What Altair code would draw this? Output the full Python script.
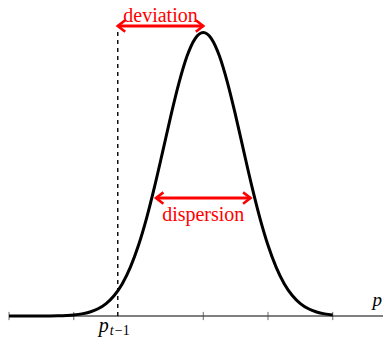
import altair as alt
import pandas as pd

# ---- data ----
curve_x = [-3.0, -2.5, -2.25, -2.0, -1.875, -1.75, -1.625, -1.5, -1.375, -1.25,
           -1.125, -1.0, -0.875, -0.75, -0.625, -0.5, -0.375, -0.25, -0.125, 0.0,
           0.125, 0.25, 0.375, 0.5, 0.625, 0.75, 0.875, 1.0, 1.125, 1.25,
           1.375, 1.5, 1.625, 1.75, 1.875, 2.0]
curve_y = [0.0, 0.0002, 0.0009, 0.0039, 0.0076, 0.0142, 0.0255, 0.0439, 0.0724, 0.1141,
           0.1724, 0.2494, 0.3453, 0.458, 0.5813, 0.707, 0.8226, 0.917, 0.9785, 1.0,
           0.9785, 0.917, 0.8226, 0.707, 0.5813, 0.458, 0.3453, 0.2494, 0.1724, 0.1141,
           0.0724, 0.0439, 0.0255, 0.0142, 0.0076, 0.0039]
tick_values = [-3, -2, 0, 1, 2]
x_domain = [-3.0, 2.776]
y_domain = [-0.0811, 1.0864]
p_prev = -1.32
dashed_top = 1.005
dev_x = [-1.32, 0.0]
dev_y = 1.023
disp_x = [-0.73, 0.73]
disp_y = 0.416
dev_label = "deviation"
disp_label = "dispersion"
dev_label_y = 1.037
disp_label_y = 0.335
axis_label = "p"
axis_label_y = 0.035
sub_p_y = -0.0564
sub_t_y = -0.067

RED = "#ff0000"
FONT = "Liberation Serif"

xs = alt.Scale(domain=x_domain, nice=False, zero=False)
ys = alt.Scale(domain=y_domain, nice=False, zero=False)

def X(f="x"):
    return alt.X(f"{f}:Q", scale=xs, axis=None)

def Y(f="y"):
    return alt.Y(f"{f}:Q", scale=ys, axis=None)

curve_df = pd.DataFrame({"x": curve_x, "y": curve_y})
curve = alt.Chart(curve_df).mark_line(color="black", strokeWidth=3, interpolate="monotone").encode(
    x=X(), y=Y())

axis_df = pd.DataFrame({"x": [x_domain[0]], "x2": [x_domain[1]], "y": [0.0]})
axis_line = alt.Chart(axis_df).mark_rule(color="black", strokeWidth=1).encode(
    x=X(), x2="x2:Q", y=Y())

tick_df = pd.DataFrame({"x": tick_values, "y": [-0.0145] * len(tick_values), "y2": [0.0145] * len(tick_values)})
ticks = alt.Chart(tick_df).mark_rule(color="#444444", strokeWidth=0.8).encode(
    x=X(), y=Y(), y2="y2:Q")

dash_df = pd.DataFrame({"x": [p_prev], "y": [0.0], "y2": [dashed_top]})
dashed = alt.Chart(dash_df).mark_rule(color="black", strokeWidth=1.4, strokeDash=[4, 4]).encode(
    x=X(), y=Y(), y2="y2:Q")

arrow_df = pd.DataFrame({"x": [dev_x[0], disp_x[0]], "x2": [dev_x[1], disp_x[1]], "y": [dev_y, disp_y]})
arrows = alt.Chart(arrow_df).mark_rule(color=RED, strokeWidth=3).encode(
    x=X(), x2="x2:Q", y=Y())

left_df = pd.DataFrame({"x": [dev_x[0], disp_x[0]], "y": [dev_y, disp_y]})
right_df = pd.DataFrame({"x": [dev_x[1], disp_x[1]], "y": [dev_y, disp_y]})
head_l = alt.Chart(left_df).mark_point(
    shape="M 1.3 -1 L 0 0 L 1.3 1", size=130, filled=False, stroke=RED, strokeWidth=2.6,
    opacity=1, strokeJoin="miter").encode(x=X(), y=Y())
head_r = alt.Chart(right_df).mark_point(
    shape="M -1.3 -1 L 0 0 L -1.3 1", size=130, filled=False, stroke=RED, strokeWidth=2.6,
    opacity=1, strokeJoin="miter").encode(x=X(), y=Y())

lab_df = pd.DataFrame({"x": [(dev_x[0] + dev_x[1]) / 2, (disp_x[0] + disp_x[1]) / 2],
                       "y": [dev_label_y, disp_label_y],
                       "t": [dev_label, disp_label]})
labels = alt.Chart(lab_df).mark_text(color=RED, font=FONT, fontSize=20, baseline="alphabetic",
                                     align="center").encode(x=X(), y=Y(), text="t:N")

p_df = pd.DataFrame({"x": [x_domain[1]], "y": [axis_label_y], "t": [axis_label]})
p_lab = alt.Chart(p_df).mark_text(font=FONT, fontSize=19, fontStyle="italic", align="right",
                                  baseline="alphabetic", dx=-1, color="black").encode(
    x=X(), y=Y(), text="t:N")

pp_df = pd.DataFrame({"x": [p_prev], "y": [sub_p_y], "t": ["p"]})
pp_lab = alt.Chart(pp_df).mark_text(font=FONT, fontSize=20, fontStyle="italic", align="right",
                                    baseline="alphabetic", dx=-9, color="black").encode(
    x=X(), y=Y(), text="t:N")
pt_df = pd.DataFrame({"x": [p_prev], "y": [sub_t_y], "t": ["t"]})
pt_lab = alt.Chart(pt_df).mark_text(font=FONT, fontSize=14, fontStyle="italic", align="left",
                                    baseline="alphabetic", dx=-8, color="black").encode(
    x=X(), y=Y(), text="t:N")
pm_df = pd.DataFrame({"x": [p_prev], "y": [sub_t_y], "t": ["\u22121"]})
pm_lab = alt.Chart(pm_df).mark_text(font=FONT, fontSize=14, align="left",
                                    baseline="alphabetic", dx=-3, color="black").encode(
    x=X(), y=Y(), text="t:N")

chart = alt.layer(axis_line, ticks, dashed, curve, arrows, head_l, head_r, labels, p_lab,
                  pp_lab, pt_lab, pm_lab).properties(
    width=374, height=331,
    autosize=alt.AutoSizeParams(type="none"),
    padding={"left": 1, "top": 0, "right": 0, "bottom": 0},
).configure_view(stroke=None)

chart.save("out.html", embed_options={"renderer": "svg", "actions": False})
